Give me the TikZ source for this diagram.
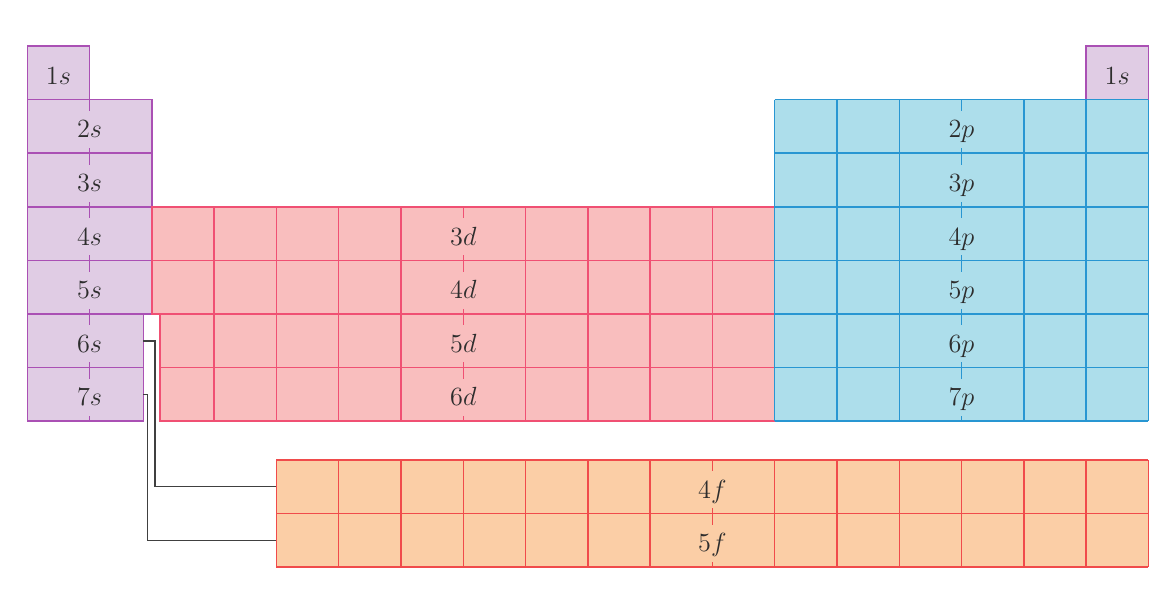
\documentclass[tikz,border=0pt]{standalone}
\usepackage{amsmath}
\usepackage{tikz}

\definecolor{sfill}{RGB}{224,204,228}
\definecolor{sline}{RGB}{170,80,180}
\definecolor{dfill}{RGB}{249,190,190}
\definecolor{dline}{RGB}{240,80,115}
\definecolor{pfill}{RGB}{173,222,235}
\definecolor{pline}{RGB}{40,150,210}
\definecolor{ffill}{RGB}{251,206,166}
\definecolor{fline}{RGB}{240,75,75}
\definecolor{lbltext}{RGB}{45,45,45}

\begin{document}
\begin{tikzpicture}[x=1.2cm,y=-1.0328cm,
		lbl/.style={anchor=base,inner sep=0pt,text height=14.8pt,text depth=5.5pt,text=lbltext,font=\fontsize{14}{16}\selectfont},
		link/.style={line width=0.75pt,black!75}]
				\useasboundingbox (-0.438,-0.858) rectangle (18.444,10.485);
				% s block
				\draw[line width=0.8pt,sline,fill=sfill] (0,0) rectangle (1,1);
				\draw[line width=0.8pt,sline,fill=sfill] (17,0) rectangle (18,1);
				\foreach \r in {2,...,5}
					\draw[line width=0.8pt,sline,fill=sfill] (0,\r-1) rectangle (2,\r);
				\foreach \r in {6,7}
					\draw[line width=0.8pt,sline,fill=sfill] (0,\r-1) rectangle (1.863,\r);
				\draw[line width=0.8pt,sline] (1,0)--(1,7);
				% d block
				\fill[dfill] (2,3) rectangle (12,5);
				\fill[dfill] (2.13,5) rectangle (12,7);
				\draw[line width=0.8pt,dline] (2,3) rectangle (12,5) (2,4)--(12,4);
				\draw[line width=0.8pt,dline] (2.13,5) rectangle (12,7) (2.13,6)--(12,6);
				\foreach \c in {3,...,11}
					\draw[line width=0.8pt,dline] (\c,3)--(\c,7);
				% p block
				\fill[pfill] (12,1) rectangle (18,7);
				\foreach \r in {1,...,7}
					\draw[line width=0.8pt,pline] (12,\r)--(18,\r);
				\foreach \c in {12,...,18}
					\draw[line width=0.8pt,pline] (\c,1)--(\c,7);
				% f block
				\fill[ffill] (4,7.72) rectangle (18,9.72);
				\foreach \r in {7.72,8.72,9.72}
					\draw[line width=0.8pt,fline] (4,\r)--(18,\r);
				\foreach \c in {4,...,18}
					\draw[line width=0.8pt,fline] (\c,7.72)--(\c,9.72);
				% labels
				\node[lbl,fill=sfill] (lbl-1s) at (0.5,0.715) {$1s$};
				\node[lbl,fill=sfill] (lbl-1s-r) at (17.5,0.715) {$1s$};
				\foreach \r in {2,...,7}
					\node[lbl,fill=sfill] (lbl-\r s) at (1,\r-0.285) {$\r s$};
				\foreach \r in {4,...,7}{
					\pgfmathtruncatemacro{\n}{\r-1}
					\node[lbl,fill=dfill] (lbl-\n d) at (7,\r-0.285) {$\n d$};
				}
				\foreach \r in {2,...,7}
					\node[lbl,fill=pfill] (lbl-\r p) at (15,\r-0.285) {$\r p$};
				\node[lbl,fill=ffill] (lbl-4f) at (11,8.435) {$4f$};
				\node[lbl,fill=ffill] (lbl-5f) at (11,9.435) {$5f$};
				% links from 6s and 7s to the f rows
				\coordinate (s6-end) at (1.863,5.5);
				\coordinate (s7-end) at (1.863,6.5);
				\coordinate (f4-end) at (4,8.22);
				\coordinate (f5-end) at (4,9.22);
				\draw[link] (s6-end) -- ++(0.19,0) |- (f4-end);
				\draw[link] (s7-end) -- ++(0.07,0) |- (f5-end);
			\end{tikzpicture}
\end{document}
